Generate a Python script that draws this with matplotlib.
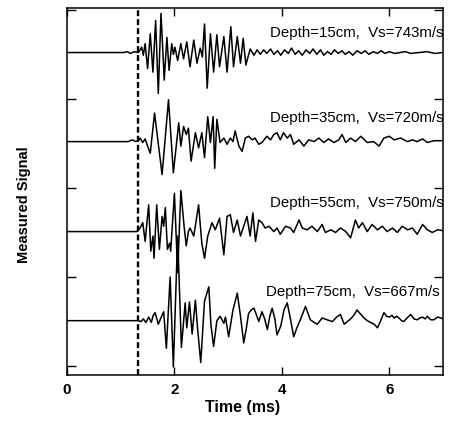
import matplotlib
matplotlib.use("Agg")
import matplotlib.pyplot as plt

# four measured waveforms (time in ms, amplitude in trace-spacing units)
t_15 = [0.0, 1.05, 1.12, 1.18, 1.25, 1.33, 1.39, 1.42, 1.455, 1.50, 1.55, 1.60, 1.65,
        1.70, 1.75, 1.81, 1.86, 1.90, 1.95, 1.98, 2.01, 2.06, 2.12, 2.17, 2.23, 2.29,
        2.36, 2.42, 2.48, 2.52, 2.56, 2.61, 2.67, 2.73, 2.79, 2.84, 2.92, 2.98, 3.05,
        3.10, 3.17, 3.23, 3.28, 3.33, 3.41, 3.48, 3.54, 3.60, 3.66, 3.72, 3.79, 3.85,
        3.92, 3.98, 4.05, 4.12, 4.18, 4.25, 4.31, 4.38, 4.45, 4.52, 4.58, 4.65, 4.72,
        4.78, 4.85, 4.92, 4.98, 5.05, 5.12, 5.18, 5.25, 5.32, 5.40, 5.48, 5.55, 5.62,
        5.70, 5.78, 5.85, 5.92, 6.00, 6.10, 6.20, 6.30, 6.40, 6.55, 6.70, 6.85, 7.0]
a_15 = [0.0, 0.0, 0.01, -0.01, 0.01, 0.0, 0.06, -0.03, 0.10, -0.18, 0.21, -0.22, 0.36,
        -0.46, 0.44, -0.31, 0.17, -0.20, 0.10, -0.02, 0.06, -0.09, 0.10, -0.07, 0.12, -0.16,
        0.14, -0.12, 0.05, -0.05, 0.32, -0.40, 0.21, -0.22, 0.20, -0.16, 0.18, -0.22, 0.29,
        -0.16, 0.18, -0.12, 0.16, -0.14, 0.04, -0.03, 0.03, -0.02, 0.03, -0.01, 0.04, -0.02,
        0.02, -0.03, 0.03, -0.01, 0.05, -0.02, 0.02, -0.03, 0.03, -0.01, 0.04, -0.02, 0.03,
        -0.03, 0.01, -0.02, 0.03, -0.01, 0.02, -0.02, 0.01, -0.03, 0.02, -0.01, 0.02, -0.02,
        0.01, -0.01, 0.02, -0.01, 0.01, -0.01, 0.0, 0.01, -0.01, 0.0, 0.01, -0.01, 0.0]

t_35 = [0.0, 1.14, 1.18, 1.22, 1.28, 1.33, 1.36, 1.41, 1.455, 1.50, 1.55, 1.63, 1.77,
        1.89, 1.98, 2.08, 2.12, 2.17, 2.22, 2.26, 2.31, 2.39, 2.45, 2.51, 2.56, 2.62,
        2.67, 2.72, 2.75, 2.79, 2.85, 2.92, 2.98, 3.04, 3.09, 3.13, 3.20, 3.26, 3.32,
        3.38, 3.45, 3.50, 3.57, 3.63, 3.72, 3.79, 3.85, 3.91, 3.97, 4.03, 4.10, 4.16,
        4.22, 4.32, 4.41, 4.50, 4.60, 4.69, 4.78, 4.87, 4.97, 5.06, 5.12, 5.19, 5.28,
        5.37, 5.47, 5.59, 5.71, 5.81, 5.90, 6.00, 6.09, 6.21, 6.34, 6.43, 6.52, 6.62,
        6.71, 6.83, 7.0]
a_35 = [0.0, 0.0, 0.01, 0.02, 0.0, 0.01, 0.04, -0.01, 0.03, -0.05, -0.13, 0.32, -0.37,
        0.47, -0.35, 0.21, -0.05, 0.17, 0.08, 0.15, -0.22, 0.10, -0.07, 0.10, -0.18, 0.28,
        -0.01, 0.28, -0.30, 0.25, -0.01, 0.04, -0.03, 0.04, 0.0, 0.12, -0.05, -0.11, 0.04,
        0.06, 0.02, 0.04, -0.03, -0.01, 0.06, 0.02, 0.08, 0.10, 0.02, 0.10, 0.04, 0.08,
        -0.03, 0.02, -0.05, 0.02, 0.0, 0.04, -0.01, 0.03, -0.01, 0.02, 0.08, -0.01, 0.04,
        0.0, 0.06, -0.01, 0.0, -0.05, 0.04, 0.06, 0.02, 0.04, 0.0, 0.02, 0.0, 0.03,
        -0.01, 0.01, 0.01]

t_55 = [0.0, 1.30, 1.36, 1.41, 1.455, 1.52, 1.56, 1.60, 1.62, 1.67, 1.72, 1.77, 1.80,
        1.83, 1.87, 1.91, 1.93, 2.00, 2.06, 2.12, 2.18, 2.22, 2.26, 2.29, 2.36, 2.45,
        2.51, 2.56, 2.62, 2.70, 2.76, 2.84, 2.92, 2.98, 3.04, 3.10, 3.17, 3.23, 3.29,
        3.35, 3.41, 3.46, 3.51, 3.57, 3.63, 3.69, 3.76, 3.85, 3.91, 3.97, 4.07, 4.16,
        4.22, 4.32, 4.38, 4.47, 4.56, 4.66, 4.75, 4.81, 4.91, 5.00, 5.09, 5.19, 5.28,
        5.37, 5.43, 5.50, 5.59, 5.68, 5.78, 5.87, 5.96, 6.06, 6.15, 6.24, 6.34, 6.43,
        6.52, 6.62, 6.71, 6.80, 6.90, 7.0]
a_55 = [0.0, 0.0, 0.04, 0.10, -0.11, 0.30, -0.22, -0.05, -0.30, 0.30, -0.20, 0.17, 0.06,
        0.27, -0.20, -0.13, -0.22, 0.43, -0.46, 0.46, 0.06, -0.16, 0.0, 0.04, -0.05, 0.30,
        -0.13, -0.30, -0.05, 0.10, 0.02, 0.15, -0.26, 0.17, 0.19, -0.01, 0.13, -0.05, 0.06,
        0.17, -0.05, 0.21, -0.11, 0.13, 0.10, 0.04, 0.06, 0.0, 0.04, -0.03, 0.06, 0.04,
        -0.01, 0.13, 0.04, 0.02, 0.06, 0.0, 0.08, -0.01, 0.02, -0.01, 0.04, 0.0, -0.07,
        0.13, 0.04, 0.10, 0.0, 0.08, 0.02, 0.06, 0.0, 0.04, -0.01, 0.06, 0.02, 0.04,
        -0.03, 0.08, 0.02, -0.01, 0.02, 0.01]

t_75 = [0.0, 1.33, 1.38, 1.42, 1.47, 1.52, 1.57, 1.60, 1.64, 1.70, 1.74, 1.80, 1.85,
        1.92, 1.98, 2.06, 2.13, 2.20, 2.23, 2.28, 2.33, 2.39, 2.43, 2.49, 2.56, 2.64,
        2.68, 2.73, 2.79, 2.85, 2.92, 2.95, 3.01, 3.09, 3.17, 3.23, 3.29, 3.34, 3.38,
        3.43, 3.48, 3.53, 3.57, 3.63, 3.68, 3.73, 3.78, 3.82, 3.87, 3.91, 3.98, 4.04,
        4.10, 4.16, 4.22, 4.28, 4.35, 4.44, 4.53, 4.60, 4.66, 4.75, 4.84, 4.94, 5.02,
        5.09, 5.16, 5.22, 5.28, 5.34, 5.40, 5.47, 5.53, 5.59, 5.65, 5.72, 5.78, 5.84,
        5.90, 5.95, 6.00, 6.05, 6.09, 6.14, 6.18, 6.23, 6.27, 6.33, 6.40, 6.46, 6.52,
        6.57, 6.62, 6.67, 6.71, 6.77, 6.83, 6.90, 6.96, 7.0]
a_75 = [0.0, 0.0, -0.01, 0.02, -0.02, 0.04, -0.02, 0.05, 0.09, -0.04, 0.02, 0.10, -0.31,
        0.49, -0.52, 0.95, -0.30, 0.20, -0.08, 0.21, -0.15, 0.23, -0.08, -0.47, 0.22, 0.38,
        -0.05, -0.29, 0.0, 0.05, -0.03, 0.04, -0.18, 0.12, 0.31, 0.05, -0.25, -0.08, 0.08,
        0.12, 0.14, 0.06, -0.01, 0.10, 0.02, -0.10, 0.06, 0.14, 0.02, -0.16, -0.06, 0.12,
        0.20, 0.02, -0.18, -0.08, 0.02, 0.16, 0.01, -0.02, -0.04, 0.03, 0.01, -0.01, 0.04,
        0.07, -0.04, -0.01, 0.02, 0.06, 0.12, 0.07, 0.03, 0.0, -0.02, -0.04, -0.08, 0.0,
        0.09, 0.05, 0.04, 0.06, 0.03, 0.05, 0.03, 0.0, -0.01, 0.03, 0.07, 0.02, 0.01,
        0.03, 0.04, 0.02, 0.05, 0.01, 0.01, 0.04, 0.03, 0.02]

baselines = [3.52, 2.52, 1.51, 0.51]
labels = ["Depth=15cm,  Vs=743m/s", "Depth=35cm,  Vs=720m/s",
          "Depth=55cm,  Vs=750m/s", "Depth=75cm,  Vs=667m/s"]
label_x = [3.77, 3.77, 3.77, 3.71]
label_dy = [0.22, 0.26, 0.32, 0.32]
arrival_ms = 1.33

traces = [(t_15, a_15), (t_35, a_35), (t_55, a_55), (t_75, a_75)]

plt.rcParams["font.family"] = ["Liberation Sans", "DejaVu Sans"]

fig = plt.figure(figsize=(4.5, 4.23), dpi=100)
ax = fig.add_axes([67 / 450, 1 - 375 / 423, 376 / 450, 367 / 423])

for (t, a), base in zip(traces, baselines):
    ax.plot(t, [base + v for v in a], color="black", lw=1.1, solid_joinstyle="round")

for txt, x, base, dy in zip(labels, label_x, baselines, label_dy):
    ax.text(x, base + dy, txt, fontsize=10.8, va="center", ha="left", clip_on=False)

ax.axvline(arrival_ms, color="black", lw=1.7, ls=(0, (2.5, 1.3)))

ax.set_xlim(0, 7.0)
ax.set_ylim(-0.1, 4.02)
ax.set_xticks([0, 2, 4, 6])
ax.set_xticklabels(["0", "2", "4", "6"], fontweight="bold", fontsize=11)
ax.set_yticks([0, 1, 2, 3, 4])
ax.set_yticklabels([])
ax.tick_params(axis="x", direction="in", length=6, width=1, top=True, pad=6)
ax.tick_params(axis="y", direction="in", length=6.5, width=1, right=True)
for s in ax.spines.values():
    s.set_linewidth(1.1)

fig.text(243 / 450, 1 - 407 / 423, "Time (ms)", fontsize=11.5, fontweight="bold",
         ha="center", va="center")
fig.text(24 / 450, 1 - 205 / 423, "Measured Signal", fontsize=10.5, fontweight="bold",
         rotation=90, ha="center", va="center")

fig.savefig("out.png", dpi=100)
